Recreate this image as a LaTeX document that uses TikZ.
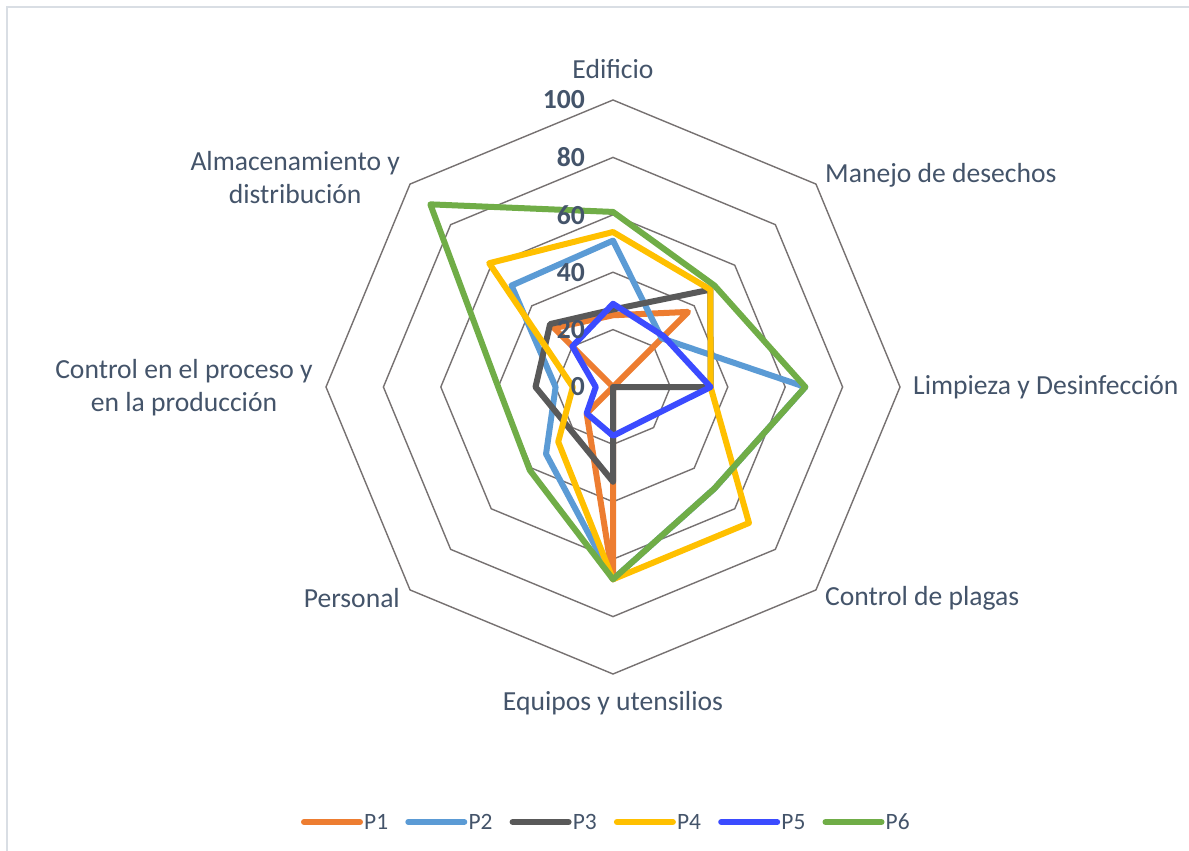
\documentclass[tikz,border=0pt]{standalone}
\usepackage{fontspec}
\setmainfont{Carlito}
\definecolor{txt}{HTML}{44546A}
\definecolor{gridc}{HTML}{767171}
\definecolor{cA}{HTML}{ED7D31}
\definecolor{cB}{HTML}{5B9BD5}
\definecolor{cC}{HTML}{595959}
\definecolor{cD}{HTML}{FFC000}
\definecolor{cE}{HTML}{3B4BFF}
\definecolor{cF}{HTML}{70AD47}
\definecolor{bord}{HTML}{D9DEE4}
\def\unitr{2.87}
\tikzset{
  gridline/.style={draw=gridc, line width=1.4bp},
  series/.style={line width=6bp, line join=round, line cap=round},
  lab/.style={text=txt, font=\fontsize{27.7}{33.5}\selectfont, inner sep=0pt, align=center},
  num/.style={text=txt, font=\fontsize{27.7}{33.5}\selectfont\bfseries, inner sep=0pt, anchor=east},
  legtxt/.style={text=txt, font=\fontsize{23.5}{27}\selectfont, inner sep=0pt, anchor=west},
  legline/.style={line width=6bp, line cap=round}
}
\begin{document}
\begin{tikzpicture}[x=1bp,y=1bp]
\path[use as bounding box, fill=white] (0,0) rectangle (1189,-851);
\draw[bord, line width=2bp] (6.5,-851) -- (6.5,-6.5) -- (1189,-6.5);
\begin{scope}[shift={(613,-387)}]
  % grid rings
  \foreach \k in {1,...,5} {
    \draw[gridline] (0:{57.4*\k}) \foreach \a in {45,90,...,315} { -- (\a:{57.4*\k}) } -- cycle;
  }
  % series
  \draw[series, cA] (90:{25*\unitr}) -- (45:{37*\unitr}) -- (0:0) -- (-45:0) -- (-90:{67*\unitr}) -- (-135:{13*\unitr}) -- (180:0) -- (135:{29*\unitr}) -- cycle;
  \draw[series, cB] (90:{51*\unitr}) -- (45:{24*\unitr}) -- (0:{67*\unitr}) -- (-45:{50*\unitr}) -- (-90:{67*\unitr}) -- (-135:{33*\unitr}) -- (180:{20*\unitr}) -- (135:{50*\unitr}) -- cycle;
  \draw[series, cC] (90:{27*\unitr}) -- (45:{48*\unitr}) -- (0:{34*\unitr}) -- (-45:0) -- (-90:{33*\unitr}) -- (-135:{21*\unitr}) -- (180:{27*\unitr}) -- (135:{31*\unitr}) -- cycle;
  \draw[series, cD] (90:{54*\unitr}) -- (45:{48*\unitr}) -- (0:{34*\unitr}) -- (-45:{67*\unitr}) -- (-90:{67*\unitr}) -- (-135:{27*\unitr}) -- (180:{14*\unitr}) -- (135:{61*\unitr}) -- cycle;
  \draw[series, cE] (90:{29*\unitr}) -- (45:{25*\unitr}) -- (0:{34*\unitr}) -- (-45:{16*\unitr}) -- (-90:{17*\unitr}) -- (-135:{13*\unitr}) -- (180:{6*\unitr}) -- (135:{20*\unitr}) -- cycle;
  \draw[series, cF] (90:{61*\unitr}) -- (45:{50*\unitr}) -- (0:{67*\unitr}) -- (-45:{50*\unitr}) -- (-90:{67*\unitr}) -- (-135:{41*\unitr}) -- (180:{40*\unitr}) -- (135:{90*\unitr}) -- cycle;
  % value labels (on top of the series)
  \node[num] (n0)   at (-28,0)     {0};
  \node[num] (n20)  at (-28,57.4)  {20};
  \node[num] (n40)  at (-28,114.8) {40};
  \node[num] (n60)  at (-28,172.2) {60};
  \node[num] (n80)  at (-28,229.6) {80};
  \node[num] (n100) at (-28,287)   {100};
  % category labels
  \node[lab] (edif) at (0,318) {Edificio};
  \node[lab, anchor=west] (mane) at (212,212) {Manejo de desechos};
  \node[lab, anchor=west] (limp) at (300,0) {Limpieza y Desinfección};
  \node[lab, anchor=west] (plag) at (212,-211) {Control de plagas};
  \node[lab] (equi) at (0,-316) {Equipos y utensilios};
  \node[lab, anchor=east] (pers) at (-213,-211) {Personal};
  \node[lab, anchor=east] (proc) at (-300,-0.5) {Control en el proceso y\\en la producción};
  \node[lab, anchor=east] (alma) at (-213,209.5) {Almacenamiento y\\distribución};
\end{scope}
% legend
\draw[legline, cA] (304,-822) -- (360,-822);
\node[legtxt] (l1) at (364,-822) {P1};
\draw[legline, cB] (408.3,-822) -- (464.3,-822);
\node[legtxt] (l2) at (468.3,-822) {P2};
\draw[legline, cC] (512.6,-822) -- (568.6,-822);
\node[legtxt] (l3) at (572.6,-822) {P3};
\draw[legline, cD] (616.9,-822) -- (672.9,-822);
\node[legtxt] (l4) at (676.9,-822) {P4};
\draw[legline, cE] (721.2,-822) -- (777.2,-822);
\node[legtxt] (l5) at (781.2,-822) {P5};
\draw[legline, cF] (825.5,-822) -- (881.5,-822);
\node[legtxt] (l6) at (885.5,-822) {P6};
\end{tikzpicture}
\end{document}
